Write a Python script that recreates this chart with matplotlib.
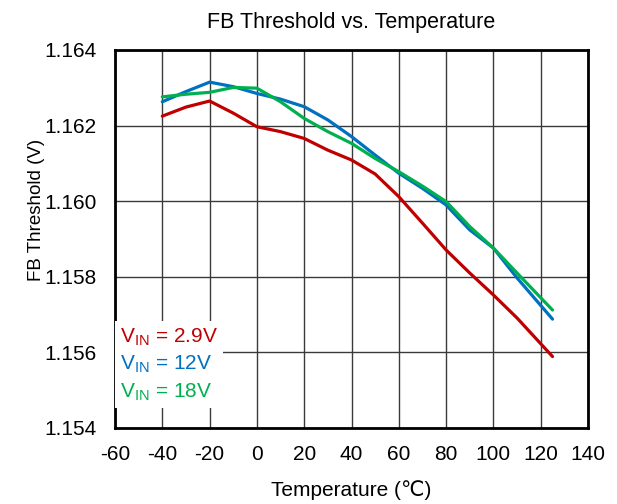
import matplotlib
matplotlib.use("Agg")
import matplotlib.pyplot as plt

plt.rcParams["font.family"] = ["Liberation Sans", "DejaVu Sans"]
plt.rcParams["axes.unicode_minus"] = False

# temperature points (degC) and FB threshold (V)
temp = [-40, -30, -20, -10, 0, 10, 20, 30, 40, 50, 60, 70, 80, 90, 100, 110, 125]
vin_2v9 = [1.16225, 1.16249, 1.16265, 1.16233, 1.16197, 1.16184, 1.16166, 1.16135,
           1.16109, 1.16072, 1.16012, 1.15942, 1.15871, 1.15810, 1.15752, 1.15691, 1.15589]
vin_12v = [1.16263, 1.16290, 1.16315, 1.16303, 1.16285, 1.16270, 1.16250, 1.16215,
           1.16171, 1.16122, 1.16074, 1.16034, 1.15990, 1.15924, 1.15876, 1.15797, 1.15688]
vin_18v = [1.16276, 1.16283, 1.16288, 1.16301, 1.16299, 1.16263, 1.16219, 1.16184,
           1.16153, 1.16113, 1.16078, 1.16040, 1.15999, 1.15933, 1.15876, 1.15810, 1.15712]

labels = [r"$\mathregular{V_{IN}}$ = 2.9V", r"$\mathregular{V_{IN}}$ = 12V", r"$\mathregular{V_{IN}}$ = 18V"]
colors = ["#C00000", "#0070C0", "#00B050"]

xticks = [-60, -40, -20, 0, 20, 40, 60, 80, 100, 120, 140]
yticks = [1.154, 1.156, 1.158, 1.160, 1.162, 1.164]

fig = plt.figure(figsize=(6.17, 5.04), dpi=100)
ax = fig.add_axes([0.1864, 0.1508, 0.7666, 0.75])

for y, c, lab in zip([vin_2v9, vin_12v, vin_18v], colors, labels):
    ax.plot(temp, y, color=c, lw=2.3, label=lab, solid_capstyle="round", zorder=3)

ax.set_xlim(-60, 140)
ax.set_ylim(1.154, 1.164)
ax.set_xticks(xticks)
ax.set_yticks(yticks)
ax.set_yticklabels([f"{v:.3f}" for v in yticks])
ax.grid(True, color="#3a3a3a", lw=1.0)
ax.set_axisbelow(True)
ax.tick_params(length=0, labelsize=15)
ax.tick_params(axis="y", pad=13)
ax.tick_params(axis="x", pad=12)
for s in ax.spines.values():
    s.set_linewidth(2)
    s.set_color("black")

ax.set_title("FB Threshold vs. Temperature", fontsize=15.5, pad=16)
ax.set_xlabel("Temperature (℃)", fontsize=15, va="center")
ax.xaxis.set_label_coords(0.5, -0.164)
ax.set_ylabel("FB Threshold (V)", fontsize=13.5, va="center")
ax.yaxis.set_label_coords(-0.165, 0.577)

leg = ax.legend(loc="lower left", bbox_to_anchor=(0, 0.053), handlelength=0, handletextpad=0,
                labelcolor="linecolor", fontsize=15, frameon=True, framealpha=1,
                edgecolor="none", fancybox=False, borderaxespad=0, borderpad=0.25,
                labelspacing=0.3)
for h in leg.legend_handles:
    h.set_visible(False)

fig.savefig("out.png", dpi=100)
